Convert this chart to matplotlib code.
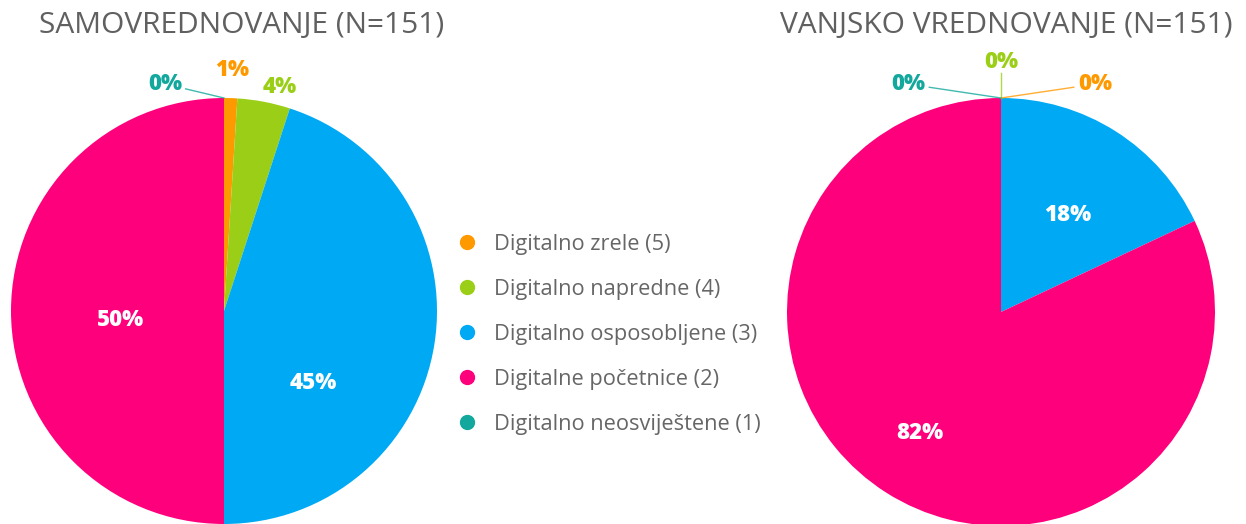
import matplotlib.pyplot as plt
from matplotlib.lines import Line2D
import numpy as np

plt.rcParams["font.family"] = ["Open Sans", "DejaVu Sans"]

categories = ["Digitalno zrele (5)", "Digitalno napredne (4)", "Digitalno osposobljene (3)",
              "Digitalne početnice (2)", "Digitalno neosviještene (1)"]
colors = ["#FF9900", "#9BCF17", "#00A9F4", "#FF007D", "#12A89D"]

titles = ["SAMOVREDNOVANJE (N=151)", "VANJSKO VREDNOVANJE (N=151)"]
self_pct = [1, 4, 45, 50, 0]
ext_pct = [0, 0, 18, 82, 0]

# label layout: inside labels (angle nudge, radius) for big slices, fixed spots for small ones
inside = [{2: (-30, 0.54), 3: (5, 0.49)}, {2: (-2, 0.55), 3: (-1.5, 0.68)}]
outside = [{0: (0.038, 1.131), 1: (0.263, 1.052), 4: (-0.277, 1.066)},
           {0: (0.439, 1.065), 1: (0.0, 1.168), 4: (-0.434, 1.065)}]
leader = [{4}, {0, 1, 4}]

fig = plt.figure(figsize=(12.46, 5.24), dpi=100)
axes = [fig.add_axes([11 / 1246, 0, 426 / 1246, 426 / 524]),
        fig.add_axes([787 / 1246, -2 / 524, 428 / 1246, 428 / 524])]

for k, (ax, vals) in enumerate(zip(axes, [self_pct, ext_pct])):
    wedges, _ = ax.pie(vals, colors=colors, startangle=90, counterclock=False,
                       radius=1, wedgeprops=dict(linewidth=0))
    ax.set_xlim(-1, 1)
    ax.set_ylim(-1, 1)
    ax.set_aspect("equal")
    ax.axis("off")
    for i, w in enumerate(wedges):
        txt = f"{vals[i]}%"
        if i in inside[k]:
            nudge, r = inside[k][i]
            a = np.deg2rad((w.theta1 + w.theta2) / 2 + nudge)
            ax.text(r * np.cos(a), r * np.sin(a), txt, color="white", fontsize=16,
                    fontweight=800, ha="center", va="center")
        else:
            x, y = outside[k][i]
            ax.text(x, y, txt, color=colors[i], fontsize=16, fontweight=800,
                    ha="center", va="center", clip_on=False)
            if i in leader[k]:
                a = np.deg2rad(w.theta1)
                ex, ey = np.cos(a), np.sin(a)
                dx, dy = x - ex, y - ey
                d = np.hypot(dx, dy)
                gap = 0.1 if abs(dx) > 0.1 else 0.05
                ax.plot([ex, x - dx / d * gap], [ey, y - dy / d * gap], color=colors[i],
                        lw=1, alpha=0.8, clip_on=False)

fig.text(242 / 1246, 1 - 25 / 524, titles[0], fontsize=21.5, color="#606060",
         ha="center", va="center")
fig.text(1006 / 1246, 1 - 25 / 524, titles[1], fontsize=21.5, color="#606060",
         ha="center", va="center")

handles = [Line2D([], [], marker="o", ls="", color=c, markersize=10) for c in colors]
fig.legend(handles, categories, loc="upper left", bbox_to_anchor=(448 / 1246, 1 - 225 / 524),
           frameon=False, fontsize=15.7, labelcolor="#666666", handletextpad=0.83,
           labelspacing=1.1, handlelength=0.9, borderaxespad=0)

fig.savefig("out.png", dpi=100)
